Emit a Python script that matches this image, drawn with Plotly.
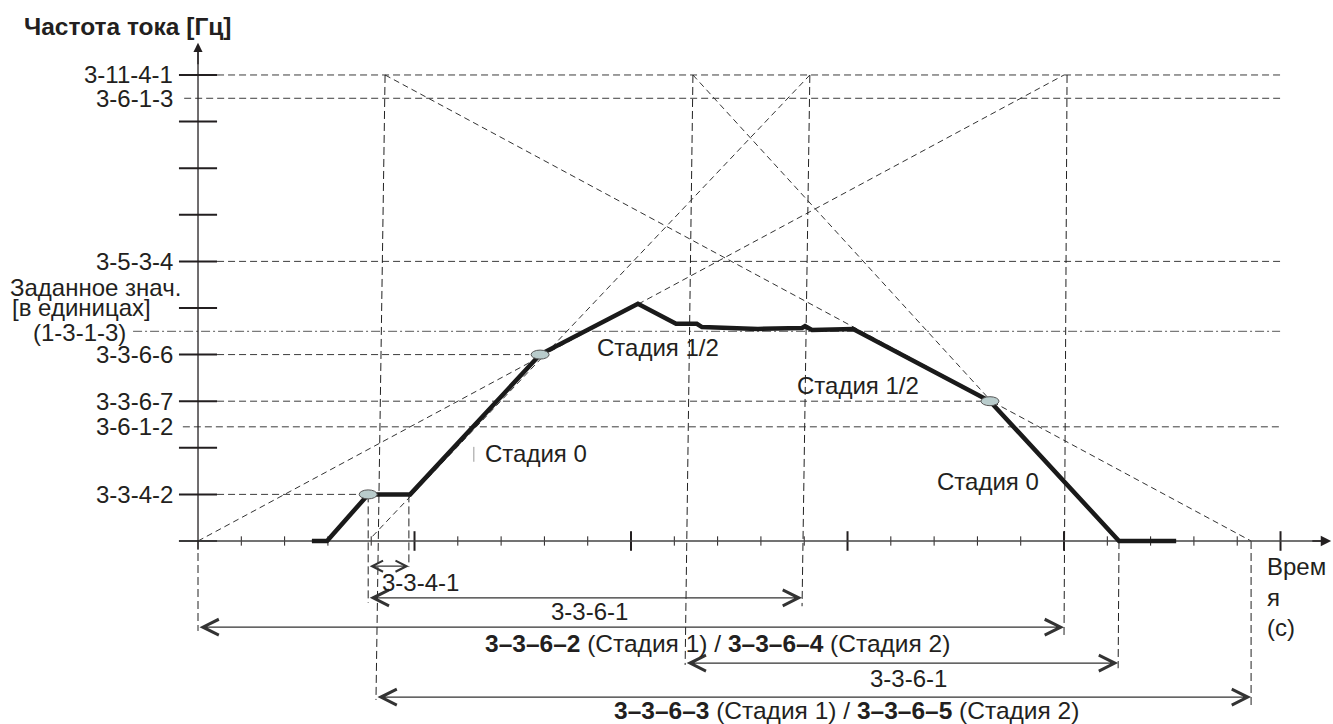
import plotly.graph_objects as go

# ---------------- data (time in tick units, frequency in tick units) ----------------
curve_t = [2.63, 2.98, 3.93, 4.90, 7.90, 10.16, 11.04, 11.52, 11.64, 12.93, 13.95, 14.02, 14.18, 15.13, 18.29, 21.27, 22.59]
curve_f = [0.00, 0.00, 1.00, 1.00, 4.00, 5.09, 4.66, 4.66, 4.59, 4.55, 4.57, 4.61, 4.53, 4.55, 3.00, 0.00, 0.00]

marker_t = [3.93, 7.90, 18.29]
marker_f = [1.00, 4.00, 3.00]

x_minor_ticks = [1, 2, 3, 4, 6, 7, 8, 9, 11, 12, 13, 14, 16, 17, 18, 19, 21, 22, 23, 24]
x_major_ticks = [5, 10, 15, 20, 25]
y_ticks = [0, 1, 2, 3, 4, 5, 6, 7, 8, 9, 10]

# labelled y levels
level_vals   = [10, 9.5, 6, 4, 3, 2.45, 1]
level_labels = ["3-11-4-1", "3-6-1-3", "3-5-3-4", "3-3-6-6", "3-3-6-7", "3-6-1-2", "3-3-4-2"]
level_start  = [0.44, -0.32, 0.44, 0.44, 0.44, -0.35, 0.44]
level_end    = [24.99, 24.99, 24.99, 7.65, 18.12, 24.99, 3.74]
setpoint_val = 4.5
setpoint_start, setpoint_end = -1.5, 24.99

# construction (diagonal) lines
diag_t0 = [0.00, 4.03, 4.32, 11.43]
diag_f0 = [0.00, 0.10, 10.0, 10.0]
diag_t1 = [20.0, 14.13, 24.32, 21.27]
diag_f1 = [10.0, 10.0, 0.00, 0.00]

# vertical construction lines
vert_t0 = [0.00, 3.93, 4.87, 4.32, 11.43, 14.13, 20.07, 21.27, 24.32]
vert_f0 = [0.00, 1.00, 1.00, 10.0, 10.0, 10.0, 10.0, 0.00, 0.00]
vert_t1 = [0.00, 3.93, 4.87, 4.11, 11.25, 13.95, 20.00, 21.25, 24.32]
vert_f1 = [-1.93, -1.33, -0.56, -3.41, -2.66, -1.40, -2.06, -2.73, -3.52]

# dimension arrows
dim_t0 = [3.93, 3.93, 0.00, 11.25, 4.11]
dim_t1 = [4.87, 13.95, 20.00, 21.25, 24.32]
dim_f  = [-0.54, -1.22, -1.85, -2.62, -3.35]
dim_labels = ["3-3-4-1", "3-3-6-1",
              "<b>3–3–6–2</b> (Стадия 1) / <b>3–3–6–4</b> (Стадия 2)",
              "3-3-6-1",
              "<b>3–3–6–3</b> (Стадия 1) / <b>3–3–6–5</b> (Стадия 2)"]
dim_label_t = [4.20, 9.05, 11.99, 16.40, 14.97]
dim_label_f = [-0.88, -1.52, -2.19, -2.94, -3.64]
dim_label_anchor = ["left", "center", "center", "center", "center"]
dim_label_size = [24, 24, 24.5, 24, 24.5]

stage_labels = ["Стадия 1/2", "Стадия 1/2", "Стадия 0", "Стадия 0"]
stage_t = [9.17, 13.79, 6.58, 17.02]
stage_f = [4.16, 3.33, 1.87, 1.27]

# ---------------- figure ----------------
FONT = "Liberation Sans, Arial, Helvetica, sans-serif"
INK = "#231f20"
fig = go.Figure()

def seg(x, y, color, width, dash="solid"):
    fig.add_trace(go.Scatter(x=x, y=y, mode="lines", line=dict(color=color, width=width, dash=dash),
                             hoverinfo="skip", showlegend=False))

# horizontal level lines
for v, s, e in zip(level_vals, level_start, level_end):
    seg([s, e], [v, v], "#3c3c3c", 1, "7px,4px")
seg([setpoint_start, setpoint_end], [setpoint_val, setpoint_val], "#7a7a7a", 1.3, "9px,3px,2px,3px")

# diagonals
for a, b, c, d in zip(diag_t0, diag_f0, diag_t1, diag_f1):
    seg([a, c], [b, d], "#333333", 1, "6px,4px")

# verticals
for a, b, c, d in zip(vert_t0, vert_f0, vert_t1, vert_f1):
    seg([a, c], [b, d], "#222222", 1, "8px,4px")

# y ticks
for v in y_ticks:
    seg([-0.44, 0.44], [v, v], INK, 2)
# x ticks
for t in x_minor_ticks:
    seg([t, t], [-0.1, 0.1], INK, 1)
for t in x_major_ticks:
    seg([t, t], [-0.21, 0.21], INK, 2)

# axes with arrows
seg([-0.44, 26.0], [0, 0], "#444", 1.3)
seg([0, 0], [-0.19, 10.5], INK, 1.3)
fig.add_annotation(x=26.17, y=0, ax=25.7, ay=0, xref="x", yref="y", axref="x", ayref="y",
                   text="", showarrow=True, arrowhead=2, arrowsize=1.6, arrowwidth=1.3, arrowcolor=INK)
fig.add_annotation(x=0, y=10.69, ax=0, ay=10.2, xref="x", yref="y", axref="x", ayref="y",
                   text="", showarrow=True, arrowhead=2, arrowsize=1.4, arrowwidth=1.3, arrowcolor=INK)

# stray mark near label
seg([6.37, 6.37], [1.70, 2.02], "#999", 1)

# main curve
fig.add_trace(go.Scatter(x=curve_t, y=curve_f, mode="lines", line=dict(color="#1a1a1a", width=4.5),
                         hoverinfo="skip", showlegend=False))

# ellipse markers
for t, f in zip(marker_t, marker_f):
    fig.add_shape(type="circle", xref="x", yref="y", xsizemode="pixel", ysizemode="pixel",
                  xanchor=t, yanchor=f, x0=-9, x1=9, y0=-4.5, y1=4.5,
                  fillcolor="#b9cccc", line=dict(color="#555", width=1), layer="above")

# dimension arrows
for a, b, v in zip(dim_t0, dim_t1, dim_f):
    fig.add_annotation(x=b, y=v, ax=a, ay=v, xref="x", yref="y", axref="x", ayref="y",
                       text="", showarrow=True, arrowhead=5, arrowside="end+start",
                       arrowsize=2.6 if (b - a) > 2 else 1.8, arrowwidth=1.2, arrowcolor="#333",
                       standoff=0, startstandoff=0)

tf = dict(family=FONT, size=24, color=INK)

for lab, t, f, anc, sz in zip(dim_labels, dim_label_t, dim_label_f, dim_label_anchor, dim_label_size):
    fig.add_annotation(x=t, y=f, xref="x", yref="y", text=lab, showarrow=False,
                       xanchor=anc, yanchor="middle", font=dict(family=FONT, size=sz, color=INK))

for lab, t, f in zip(stage_labels, stage_t, stage_f):
    fig.add_annotation(x=t, y=f, xref="x", yref="y", text=lab, showarrow=False,
                       xanchor="left", yanchor="middle", font=tf)

# y labels
for v, lab in zip(level_vals, level_labels):
    fig.add_annotation(x=-0.53, y=v, xref="x", yref="y", text=lab, showarrow=False,
                       xanchor="right", yanchor="middle", font=tf)
fig.add_annotation(x=-4.39, y=5.43, xref="x", yref="y", text="Заданное знач.", showarrow=False,
                   xanchor="left", yanchor="middle", font=tf)
fig.add_annotation(x=-4.34, y=5.0, xref="x", yref="y", text="[в единицах]", showarrow=False,
                   xanchor="left", yanchor="middle", font=tf)
fig.add_annotation(x=-1.62, y=4.48, xref="x", yref="y", text="(1-3-1-3)", showarrow=False,
                   xanchor="right", yanchor="middle", font=tf)

# axis titles
fig.add_annotation(x=-4.07, y=11.05, xref="x", yref="y", text="<b>Частота тока [Гц]</b>", showarrow=False,
                   xanchor="left", yanchor="middle", font=dict(family=FONT, size=24.5, color=INK))
for lab, f in zip(["Врем", "я", "(с)"], [-0.54, -1.22, -1.85]):
    fig.add_annotation(x=24.64, y=f, xref="x", yref="y", text=lab, showarrow=False,
                       xanchor="left", yanchor="middle", font=tf)

fig.update_layout(
    width=1333, height=724, margin=dict(l=0, r=0, t=0, b=0),
    paper_bgcolor="white", plot_bgcolor="white",
    xaxis=dict(range=[-4.573, 26.212], visible=False, fixedrange=True),
    yaxis=dict(range=[-3.927, 11.609], visible=False, fixedrange=True),
    showlegend=False,
)
fig.write_html("out.html", config={"displayModeBar": False},
               post_script="document.body.style.margin='0px';document.body.style.overflow='hidden';")
